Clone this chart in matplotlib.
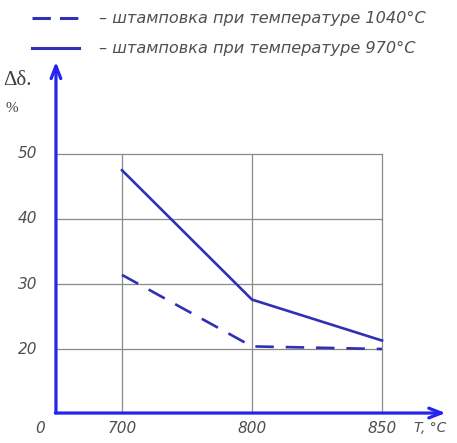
import matplotlib
matplotlib.use('Agg')
import matplotlib.pyplot as plt
from matplotlib.lines import Line2D

# data
temps = ['700', '800', '850']
x_pos = [1, 2, 3]                  # the T axis is not to scale, just equal steps
y_970 = [47.5, 27.6, 21.3]         # stamping at 970 C (solid)
y_1040 = [31.4, 20.4, 20.0]        # stamping at 1040 C (dashed)
y_ticks = [20, 30, 40, 50]
legend_labels = ['– штамповка при температуре 1040°С',
                 '– штамповка при температуре 970°С']

axis_blue = '#2424ee'
line_blue = '#3030b4'
grid_gray = '#8a8a8a'
label_gray = '#505050'

fig = plt.figure(figsize=(4.57, 4.43), dpi=100)
ax = fig.add_axes([0, 0, 1, 1])
ax.set_xlim(0.0615, 3.577)
ax.set_ylim(5.54, 73.69)
ax.axis('off')

x0, y0 = 0.492, 10.15   # where the drawn axes cross

# grid
for y in y_ticks:
    ax.plot([x0, x_pos[-1]], [y, y], color=grid_gray, lw=0.9, zorder=1)
for x in x_pos:
    ax.plot([x, x], [y0, y_ticks[-1]], color=grid_gray, lw=0.9, zorder=1)

# curves
ax.plot(x_pos, y_970, color=line_blue, lw=1.9, zorder=3)
ax.plot(x_pos, y_1040, color=line_blue, lw=1.9, dashes=(7, 4.5), zorder=3)

# axes with arrows
arrow = dict(arrowstyle='->,head_length=0.9,head_width=0.35', color=axis_blue,
             lw=2.3, shrinkA=0, shrinkB=0)
ax.annotate('', xy=(x0, 64.2), xytext=(x0, y0), arrowprops=arrow, zorder=4)
ax.annotate('', xy=(3.49, y0), xytext=(x0 - 0.005, y0), arrowprops=arrow, zorder=4)

# tick labels
for y in y_ticks:
    ax.text(0.35, y, str(y), ha='right', va='center', fontsize=11,
            style='italic', color=label_gray)
for x, t in zip(x_pos, temps):
    ax.text(x, 7.8, t, ha='center', va='center', fontsize=11,
            style='italic', color=label_gray)
ax.text(0.37, 7.8, '0', ha='center', va='center', fontsize=11,
        style='italic', color=label_gray)
ax.text(3.37, 7.8, 'T, °C', ha='center', va='center', fontsize=10,
        style='italic', color=label_gray)

# y label
fig.text(0.008, 0.818, 'Δδ.', fontsize=15, family='Liberation Serif',
         color='#404040', va='center')
fig.text(0.012, 0.755, '%', fontsize=11, family='Liberation Serif',
         color='#404040', va='center')

# legend drawn by hand at the top
for row, (lab, ls) in enumerate(zip(legend_labels, ['--', '-'])):
    yy = 1 - (18 + 30 * row) / 443
    ln = Line2D([32 / 457, 79 / 457], [yy, yy], transform=fig.transFigure,
                color=line_blue, lw=2.2)
    if ls == '--':
        ln.set_dashes((6, 3))
    fig.add_artist(ln)
    fig.text(99 / 457, yy, lab, fontsize=11.6, style='italic',
             color=label_gray, va='center')

fig.savefig('out.png', dpi=100)
